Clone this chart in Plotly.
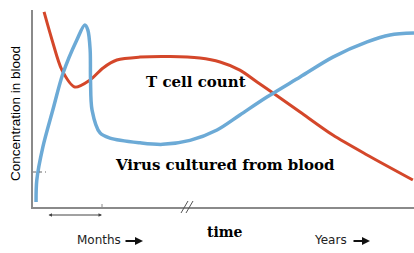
import plotly.graph_objects as go

# Time axis: 0 (infection) .. 100 (years later); concentration 0..100 (relative)
t_cell_time = [2.9, 5.0, 7.6, 11.0, 15.0, 18.4, 22.0, 28.1, 36.0, 43.8, 49.1, 54.3, 58.8, 63.0, 70.1, 78.7, 87.7, 99.7]
t_cell_conc = [99, 84.8, 69.5, 60.9, 64.5, 70.6, 74.6, 76.1, 76.4, 75.6, 73.6, 69.5, 63.5, 57.9, 48.2, 36.5, 26.4, 13.7]

virus_time = [0.8, 1.0, 2.6, 5.2, 7.9, 11.5, 13.6, 14.4, 15.0, 15.1, 15.5, 17.6, 20.2, 28.1, 34.0, 41.2, 48.3, 54.3, 61.4, 70.1, 78.7, 87.7, 93.7, 100]
virus_conc = [2.5, 13.7, 30.5, 49.2, 68.0, 84.8, 92.4, 89.8, 79.7, 64.5, 49.2, 37.6, 35.0, 32.6, 31.8, 33.8, 39.1, 46.7, 55.8, 66.0, 76.1, 83.8, 87.3, 88.3]

W, H = 414, 253
L, T, B = 33, 10, 207

def px(x):
    return x / W

def py(y):
    return 1 - y / H

fig = go.Figure()
fig.add_trace(go.Scatter(x=t_cell_time, y=t_cell_conc, mode="lines",
                         line=dict(color="#d4472a", width=3, shape="spline", smoothing=0.8),
                         hoverinfo="skip"))
fig.add_trace(go.Scatter(x=virus_time, y=virus_conc, mode="lines",
                         line=dict(color="#6caad6", width=3.5, shape="spline", smoothing=0.9),
                         hoverinfo="skip"))

axis_col = "#8a8a8a"
fig.update_layout(
    width=W, height=H, margin=dict(l=0, r=0, t=0, b=0),
    paper_bgcolor="white", plot_bgcolor="white", showlegend=False,
    xaxis=dict(domain=[L / W, 1], range=[0, 100], showgrid=False, zeroline=False,
               showline=True, linecolor=axis_col, linewidth=1.5, showticklabels=False, ticks=""),
    yaxis=dict(domain=[1 - B / H, 1 - T / H], range=[0, 100], showgrid=False, zeroline=False,
               showline=True, linecolor=axis_col, linewidth=1.5, showticklabels=False, ticks=""),
)

serif = "DejaVu Serif"
sans = "DejaVu Sans"

anns = [
    dict(text="<b>T cell count</b>", x=px(196), y=py(82), font=dict(family=serif, size=15, color="black")),
    dict(text="<b>Virus cultured from blood</b>", x=px(225), y=py(165), font=dict(family=serif, size=15, color="black")),
    dict(text="Concentration in blood", x=px(15.5), y=py(113.5), textangle=-90,
         font=dict(family="Liberation Sans", size=13.5, color="black")),
    dict(text="Months", x=px(98.5), y=py(240), font=dict(family=sans, size=12, color="#222")),
    dict(text="Years", x=px(330.5), y=py(240), font=dict(family=sans, size=12, color="#222")),
    dict(text="<b>time</b>", x=px(225), y=py(232), font=dict(family=serif, size=14, color="black")),
]
for a in anns:
    a.update(xref="paper", yref="paper", showarrow=False, xanchor="center", yanchor="middle")
    fig.add_annotation(**a)

# arrows (ax/ay are pixel offsets of the tail from the head)
fig.add_annotation(xref="paper", yref="paper", axref="pixel", ayref="pixel",
                   x=px(102), y=py(215), ax=47 - 102, ay=0, text="",
                   showarrow=True, arrowside="end+start", arrowhead=2, arrowsize=0.7,
                   arrowwidth=1, arrowcolor="#444")
for x0, x1 in [(124, 143), (352, 370)]:
    fig.add_annotation(xref="paper", yref="paper", axref="pixel", ayref="pixel",
                       x=px(x1), y=py(241), ax=x0 - x1, ay=0, text="",
                       showarrow=True, arrowhead=2, arrowsize=0.8, arrowwidth=2,
                       arrowcolor="#111")

# decorations: small tick, axis break, dashed y tick
fig.add_shape(type="line", xref="paper", yref="paper", x0=px(102), x1=px(102), y0=py(207), y1=py(204),
              line=dict(color=axis_col, width=1))
for dx in (0, 5):
    fig.add_shape(type="line", xref="paper", yref="paper", x0=px(181 + dx), x1=px(188 + dx),
                  y0=py(213), y1=py(201), line=dict(color="#555", width=1))
fig.add_shape(type="line", xref="paper", yref="paper", x0=px(33), x1=px(46), y0=py(172), y1=py(172),
              line=dict(color="#666", width=1, dash="dot"))

fig.write_html("out.html")
